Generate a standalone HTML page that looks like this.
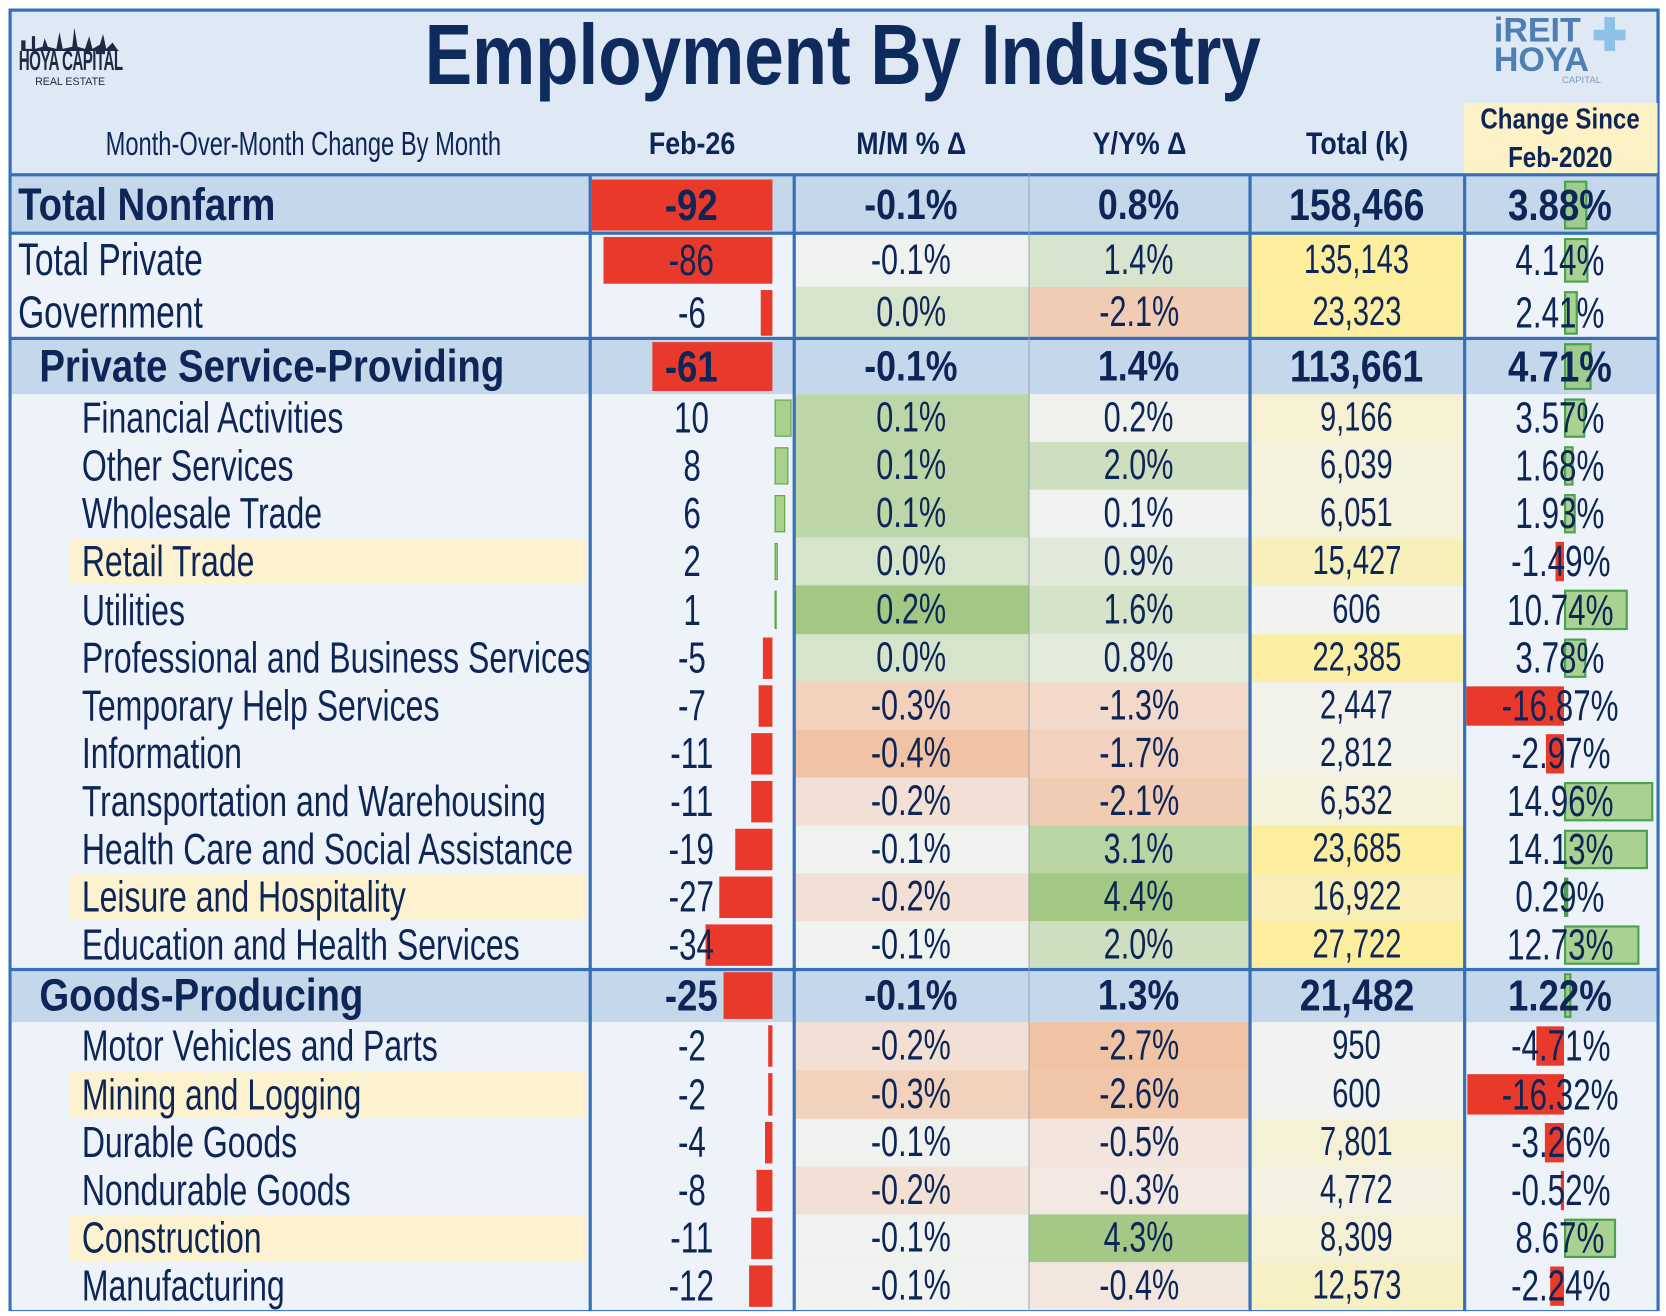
<!DOCTYPE html>
<html><head><meta charset="utf-8">
<style>
html,body{margin:0;padding:0;width:1666px;height:1316px;overflow:hidden;background:#fff;}
#wrap{position:absolute;left:0;top:0;width:1568px;height:1239px;transform:scale(1.0625);transform-origin:0 0;background:#fff;font-family:"Liberation Sans",sans-serif;color:#0d2557;}
.abs{position:absolute;}
.cell{position:absolute;display:flex;align-items:center;justify-content:center;white-space:nowrap;}
.cell.left{justify-content:flex-start;}
.t{display:inline-block;transform:scaleX(0.72);transform-origin:center;}
.left .t{transform-origin:left center;transform:scaleX(0.735);}
.b{font-weight:bold;}
</style></head><body>
<div id="wrap">
  <div class="abs" style="left:8px;top:8px;width:1554px;height:1226px;background:#dfe9f5;border:3px solid #3570b8;box-sizing:border-box;"></div>
  <div class="abs" style="left:18px;top:16px;width:96px;height:74px;">
    <svg width="96" height="74"><path d="M2 32 L2 22 L6 22 L6 30 L12 30 L12 18 L15 18 L15 30 L22 28 L24 20 L27 28 L35 30 L38 14 L41 30 L50 28 L52 10 L55 28 L62 30 L66 18 L69 30 L76 26 L79 16 L82 30 L88 24 L92 30 L94 32 Z" fill="#1d2a44"/></svg>
    <div class="abs" style="left:0;top:26px;width:96px;text-align:center;font:bold 26px 'Liberation Sans',sans-serif;color:#1d2a44;transform:scaleX(0.55);transform-origin:center;letter-spacing:-1px;white-space:nowrap;margin-left:-40px;width:176px;">HOYA CAPITAL</div>
    <div class="abs" style="left:0;top:56px;width:96px;text-align:center;font:10px 'Liberation Sans',sans-serif;color:#1d2a44;">REAL ESTATE</div>
  </div>
  <div class="abs" style="left:293px;top:6px;width:1000px;text-align:center;font:bold 80px 'Liberation Sans',sans-serif;color:#0f2a5c;"><span style="display:inline-block;transform:scaleX(0.835);">Employment By Industry</span></div>
  <div class="abs" style="left:1400px;top:10px;width:140px;height:74px;">
    <div class="abs" style="left:6px;top:0;font:bold 32px 'Liberation Sans',sans-serif;color:#4d7fb3;">iREIT</div>
    <div class="abs" style="left:6px;top:28px;font:bold 32px 'Liberation Sans',sans-serif;color:#4d7fb3;">HOYA</div>
    <div class="abs" style="left:100px;top:6px;width:30px;height:10px;background:#8fc1e6;top:18px;"></div>
    <div class="abs" style="left:110px;top:6px;width:10px;height:32px;background:#8fc1e6;"></div>
    <div class="abs" style="left:70px;top:60px;font:9px 'Liberation Sans',sans-serif;color:#7f9ab8;">CAPITAL</div>
  </div>
  <div class="abs" style="left:1378px;top:97px;width:182px;height:66px;background:#fdf1c6;"></div>
  <div id="grid"></div>
</div>
<script>
const labels=["Total Nonfarm","Total Private","Government","Private Service-Providing","Financial Activities","Other Services","Wholesale Trade","Retail Trade","Utilities","Professional and Business Services","Temporary Help Services","Information","Transportation and Warehousing","Health Care and Social Assistance","Leisure and Hospitality","Education and Health Services","Goods-Producing","Motor Vehicles and Parts","Mining and Logging","Durable Goods","Nondurable Goods","Construction","Manufacturing"];
const febValues=[-92,-86,-6,-61,10,8,6,2,1,-5,-7,-11,-11,-19,-27,-34,-25,-2,-2,-4,-8,-11,-12];
const mmValues=[-0.1,-0.1,0.0,-0.1,0.1,0.1,0.1,0.0,0.2,0.0,-0.3,-0.4,-0.2,-0.1,-0.2,-0.1,-0.1,-0.2,-0.3,-0.1,-0.2,-0.1,-0.1];
const yyValues=[0.8,1.4,-2.1,1.4,0.2,2.0,0.1,0.9,1.6,0.8,-1.3,-1.7,-2.1,3.1,4.4,2.0,1.3,-2.7,-2.6,-0.5,-0.3,4.3,-0.4];
const totalValues=[158466,135143,23323,113661,9166,6039,6051,15427,606,22385,2447,2812,6532,23685,16922,27722,21482,950,600,7801,4772,8309,12573];
const changeValues=[3.88,4.14,2.41,4.71,3.57,1.68,1.93,-1.49,10.74,3.78,-16.87,-2.97,14.96,14.13,0.29,12.73,1.22,-4.71,-16.32,-3.26,-0.52,8.67,-2.24];
const rowLevel=[0,1,1,2,3,3,3,3,3,3,3,3,3,3,3,3,2,3,3,3,3,3,3];
const highlighted=["Retail Trade","Leisure and Hospitality","Mining and Logging","Construction"];

const grid=document.getElementById('grid');
const wrap=document.getElementById('wrap');
const C={x0:11,lab:555,feb:747,mm:968,yy:1176,tot:1378,end:1559};
function heightOf(i){
  if(i===0)return 54; if(i===1)return 50; if(i===2)return 49; if(i===3)return 52; if(i===16)return 50;
  if(i<16)return 45.1; return 45.2;
}
function mix(a,b,t){t=Math.max(0,Math.min(1,t));const p=s=>[1,3,5].map(k=>parseInt(s.substr(k,2),16));const A=p(a),B=p(b);return 'rgb('+A.map((v,k)=>Math.round(v+(B[k]-v)*t)).join(',')+')';}
function heat(v,mid,maxPos,maxNeg){ const d=v-mid; if(d>=0)return mix('#f0f2ef','#a2c883',d/maxPos); return mix('#f3eeec','#f1c3a5',-d/maxNeg);}
function totColor(v){return mix('#f1f3f3','#fcee9c',v/24000);}
function fmtNum(v){return v.toLocaleString('en-US');}
function fmtPct(v,d){return v.toFixed(d)+'%';}
function box(x,y,w,h,bg,name){const d=document.createElement('div');d.className='abs';d.style.cssText='left:'+x+'px;top:'+y+'px;width:'+w+'px;height:'+h+'px;background:'+bg;


wrap.appendChild(d);return d;}
function text(x,y,w,h,str,size,bold,left,name,pad){const d=document.createElement('div');d.className='cell'+(left?' left':'');d.style.cssText='left:'+x+'px;top:'+y+'px;width:'+w+'px;height:'+h+'px;font-size:'+size+'px;'+(bold?'font-weight:bold;':'')+(pad?'padding-left:'+pad+'px;box-sizing:border-box;':'');
const s=document.createElement('span');s.className='t';s.textContent=str;if(bold)s.style.transform='scaleX(0.84)';d.appendChild(s);


wrap.appendChild(d);return d;}

text(20,110,530,52,"Month-Over-Month Change By Month",31,false,false,'header-month-over-month');
text(C.lab,110,C.feb-C.lab,52,"Feb-26",30,true,false,'header-feb-26');
text(C.feb,110,C.mm-C.feb,52,"M/M % Δ",30,true,false,'header-mm-change');
text(C.mm,110,C.yy-C.mm,52,"Y/Y% Δ",30,true,false,'header-yy-change');
text(C.yy,110,C.tot-C.yy,52,"Total (k)",30,true,false,'header-total-k');
text(C.tot,94,C.end-C.tot,36,"Change Since",27,true,false,'header-change-since');
text(C.tot,130,C.end-C.tot,36,"Feb-2020",27,true,false,'header-feb-2020');

let y=166;
const FEB_SCALE=1.85, FEB_ORIGIN=727, CH_ORIGIN=1472, CH_SCALE=5.6;
labels.forEach((lab,i)=>{
  const h=heightOf(i), lvl=rowLevel[i], hdr=(lvl===0||lvl===2);
  const band='#c4d7eb', plain='#edf3f9';
  const slug=lab.toLowerCase().replace(/[^a-z]+/g,'-');
  const yy0=Math.round(y), hh=Math.round(y+h)-yy0;
  box(C.x0,yy0,C.lab-C.x0,hh,hdr?band:plain,'row-bg-'+slug);
  if(highlighted.includes(lab)) box(65,yy0+1,C.lab-65-3,hh-2,'#fcf2cf','label-highlight-'+slug);
  box(C.lab,yy0,C.feb-C.lab,hh,hdr?band:plain,'feb-cell-'+slug);
  box(C.feb,yy0,C.mm-C.feb,hh,hdr?band:heat(mmValues[i],-0.1,0.3,0.3),'mm-cell-'+slug);
  box(C.mm,yy0,C.yy-C.mm,hh,hdr?band:heat(yyValues[i],0.1,4.3,2.8),'yy-cell-'+slug);
  box(C.yy,yy0,C.tot-C.yy,hh,hdr?band:totColor(totalValues[i]),'total-cell-'+slug);
  box(C.tot,yy0,C.end-C.tot,hh,hdr?band:plain,'change-cell-'+slug);
  const fv=febValues[i];
  if(fv<0){const w=Math.min(-fv*FEB_SCALE,FEB_ORIGIN-C.lab-2);box(FEB_ORIGIN-w,yy0+3,w,hh-6,'#e8392a','feb-bar-'+slug);}
  else{const w=Math.min(fv*1.6,C.feb-FEB_ORIGIN-4);const b=box(FEB_ORIGIN+2,yy0+5,w,hh-10,'#a9d18e','feb-bar-'+slug);b.style.border='1px solid #5aa347';b.style.boxSizing='border-box';}
  const cv=changeValues[i];
  if(cv<0){const w=Math.min(-cv*CH_SCALE,CH_ORIGIN-C.tot-2);box(CH_ORIGIN-w,yy0+4,w,hh-8,'#e8392a','change-bar-'+slug);}
  else{const w=Math.min(cv*CH_SCALE,C.end-CH_ORIGIN);const b=box(CH_ORIGIN,yy0+4,w,hh-8,'rgba(150,200,120,0.8)','change-bar-'+slug);b.style.border='2px solid #4aa34a';b.style.boxSizing='border-box';}
  const fs=(lvl===3)?41:43;
  const pad=lvl===0||lvl===1?6:(lvl===2?26:66);
  text(C.x0,yy0,C.lab-C.x0,hh,lab,fs,hdr,true,'label-'+slug,pad);
  text(C.lab,yy0,C.feb-C.lab,hh,String(fv),41,hdr,false,'feb-value-'+slug);
  text(C.feb,yy0,C.mm-C.feb,hh,fmtPct(mmValues[i],1),40,hdr,false,'mm-value-'+slug);
  text(C.mm,yy0,C.yy-C.mm,hh,fmtPct(yyValues[i],1),40,hdr,false,'yy-value-'+slug);
  text(C.yy,yy0,C.tot-C.yy,hh,fmtNum(totalValues[i]),hdr?42:38,hdr,false,'total-value-'+slug);
  text(C.tot,yy0,C.end-C.tot,hh,fmtPct(changeValues[i],2),41,hdr,false,'change-value-'+slug);
  y+=h;
});
function line(x,y0,w,h,c,name){box(x,y0,w,h,c,name);}
line(9,163,1551,3,'#3570b8','header-divider');
line(9,218,1551,3,'#3570b8','total-nonfarm-divider');
line(9,317,1551,3,'#3570b8','service-divider');
line(9,911,1551,3,'#3570b8','goods-divider');
[C.lab,C.feb,C.yy,C.tot].forEach((x,k)=>line(x-1,164,3,1070,'#3570b8','column-divider-'+k));
line(C.mm,164,1,1070,'#9aa6b4','column-divider-dotted');
</script>
</body></html>
